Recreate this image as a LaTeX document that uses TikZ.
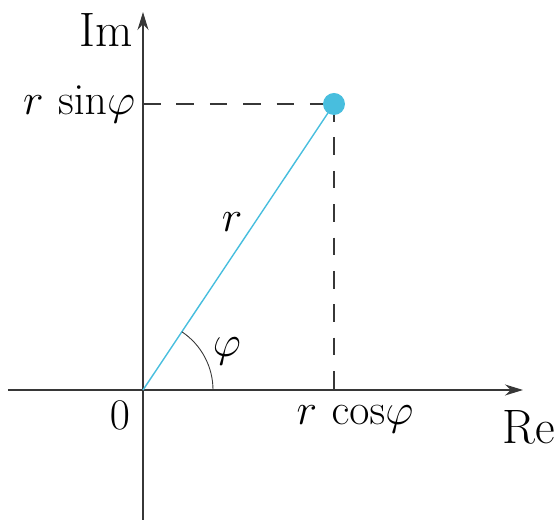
\documentclass[tikz,border=0pt]{standalone}
\usepackage{tikz}
\usetikzlibrary{arrows.meta,positioning}
\definecolor{sky}{RGB}{72,190,222}
\definecolor{ink}{RGB}{55,55,55}
\tikzset{
  >={Stealth[length=3.6mm,width=2.2mm]},
  axis/.style={->,draw=ink,line width=0.9pt},
  guide/.style={draw=ink,line width=0.6pt,dash pattern=on 10pt off 9pt},
  radius line/.style={draw=sky,line width=0.8pt},
  lbl/.style={font=\fontsize{27.5}{32}\selectfont,text=black,inner sep=2pt},
}
\begin{document}
\begin{tikzpicture}
  \useasboundingbox (-2.86,-2.6) rectangle (8.3,7.8);
  % points
  \coordinate (O) at (0,0);
  \coordinate (P) at (3.82,5.72);
  \coordinate (Px) at (3.82,0);
  \coordinate (Py) at (0,5.72);
  \coordinate (xa) at (-2.7,0);
  \coordinate (xb) at (7.6,0);
  \coordinate (ya) at (0,-2.6);
  \coordinate (yb) at (0,7.56);
  % axes
  \draw[axis] (xa) -- (xb);
  \draw[axis] (ya) -- (yb);
  % projections
  \draw[guide] (Py) -- (P);
  \draw[guide] (P) -- (Px);
  % vector and angle
  \draw[radius line] (O) -- (P);
  \draw[ink,line width=0.5pt] (1.4,0) arc (0:56.3:1.4);
  \fill[sky] (P) circle (0.22);
  % labels
  \node[lbl,anchor=east] (im) at (-0.12,7.2) {Im};
  \node[lbl] (re) at (7.72,-0.74) {Re};
  \node[lbl,anchor=east] (ysin) at (-0.08,5.72) {$r\,\sin\!\varphi$};
  \node[lbl] (xcos) at (4.24,-0.58) {$r\,\cos\!\varphi$};
  \node[lbl] (zero) at (-0.46,-0.5) {$0$};
  \node[lbl] (rr) at (1.78,3.36) {$r$};
  \node[lbl] (phi) at (1.68,0.78) {$\varphi$};
\end{tikzpicture}
\end{document}
